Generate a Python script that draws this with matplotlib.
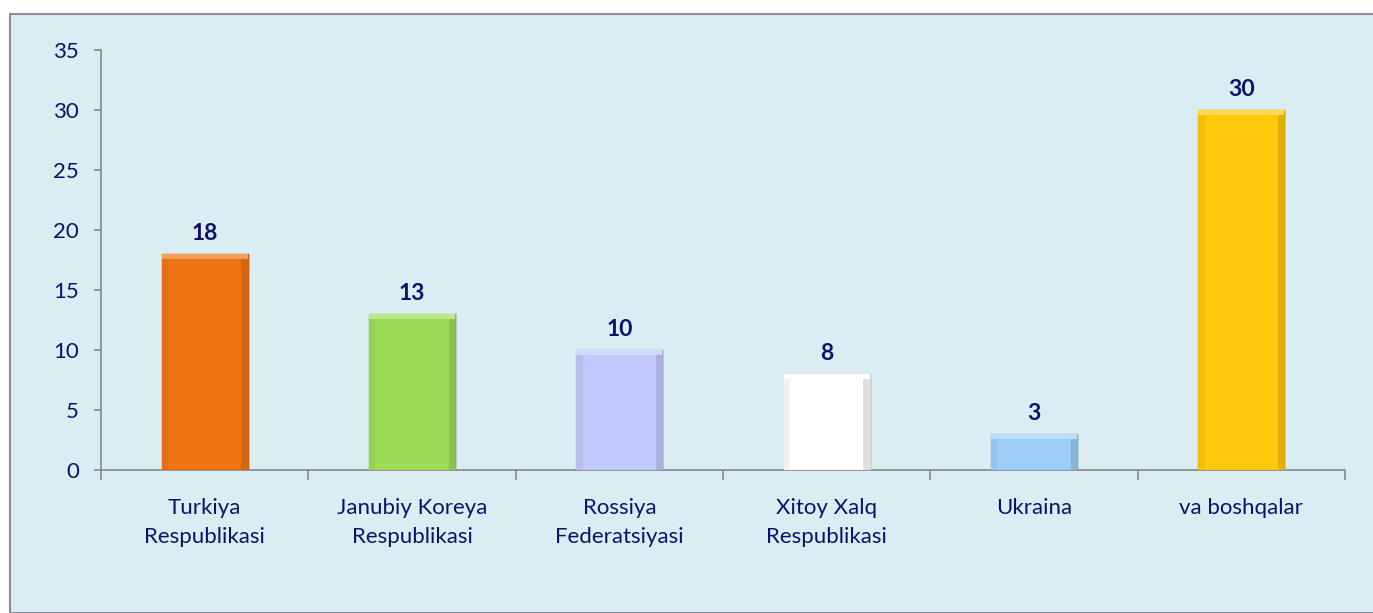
import matplotlib
matplotlib.use("Agg")
import matplotlib.pyplot as plt
from matplotlib.patches import Rectangle
import numpy as np
import matplotlib.colors as mcolors

categories = ["Turkiya\nRespublikasi", "Janubiy Koreya\nRespublikasi", "Rossiya\nFederatsiyasi",
              "Xitoy Xalq\nRespublikasi", "Ukraina", "va boshqalar"]
values = [18, 13, 10, 8, 3, 30]
bar_colors = ["#F07412", "#9CDC58", "#C2C9FC", "#FFFFFF", "#9CCEF8", "#FFC80A"]
yticks = [0, 5, 10, 15, 20, 25, 30, 35]

text_color = "#10106A"
axis_color = "#86868E"
bg = "#DAEDF3"

plt.rcParams['font.family'] = ['Lato', 'DejaVu Sans']

fig = plt.figure(figsize=(13.73, 6.13), dpi=100)
fig.patch.set_facecolor("white")
# framed chart area
fig.patches.append(Rectangle((10/1373, 0), 1.0, 1 - 14/613, transform=fig.transFigure,
                             facecolor=bg, edgecolor="#8E8E9C", linewidth=1.5, zorder=-10))

ax = fig.add_axes([101/1373, 1 - 470/613, (1345-101)/1373, (470-50)/613])
ax.set_zorder(5)
ax.set_facecolor("none")

x = np.arange(len(values))
w = 0.415

def shade(c, f):
    r, g, b = mcolors.to_rgb(c)
    return (r*f, g*f, b*f)

def tint(c, f):
    r, g, b = mcolors.to_rgb(c)
    return (r + (1-r)*f, g + (1-g)*f, b + (1-b)*f)

# soft shadow
ax.bar(x + 0.01, values, width=w, color="#000000", alpha=0.10, zorder=2)
ax.bar(x, values, width=w, color=bar_colors, edgecolor=[shade(c, 0.85) for c in bar_colors],
       linewidth=1.0, zorder=3)
# bevel: top highlight and side shading (inside each bar)
bev_x = 0.03
bev_y = 0.45
for xi, v, c in zip(x, values, bar_colors):
    ax.bar(xi + w/2 - bev_x, v - bev_y, width=bev_x, align='edge', color=shade(c, 0.88),
           linewidth=0, zorder=4)
    ax.bar(xi - w/2, v - bev_y, width=bev_x, align='edge', color=shade(c, 0.95),
           linewidth=0, zorder=4)
    ax.bar(xi, bev_y, bottom=v - bev_y, width=w, color=tint(c, 0.3), linewidth=0, zorder=4)

for xi, v in zip(x, values):
    ax.annotate(str(v), (xi, v), xytext=(0, 7), textcoords="offset points",
                ha="center", va="bottom", fontsize=16.5, fontweight="bold", color=text_color)

ax.set_xlim(-0.5, len(values) - 0.5)
ax.set_ylim(0, 35)
ax.set_yticks(yticks)
ax.set_xticks(x)
ax.set_xticklabels(categories, linespacing=1.55)
ax.set_xticks(np.arange(-0.5, len(values), 1.0), minor=True)
ax.tick_params(axis='x', which='major', length=0, pad=20, labelsize=16, labelcolor=text_color)
ax.tick_params(axis='x', which='minor', length=7, width=1.2, color=axis_color, direction='out')
ax.tick_params(axis='y', length=5, width=1.2, color=axis_color, pad=11, labelsize=16,
               labelcolor=text_color)
for s in ["top", "right"]:
    ax.spines[s].set_visible(False)
for s in ["left", "bottom"]:
    ax.spines[s].set_color(axis_color)
    ax.spines[s].set_linewidth(1.2)

fig.savefig("out.png", dpi=100, facecolor=fig.get_facecolor())
